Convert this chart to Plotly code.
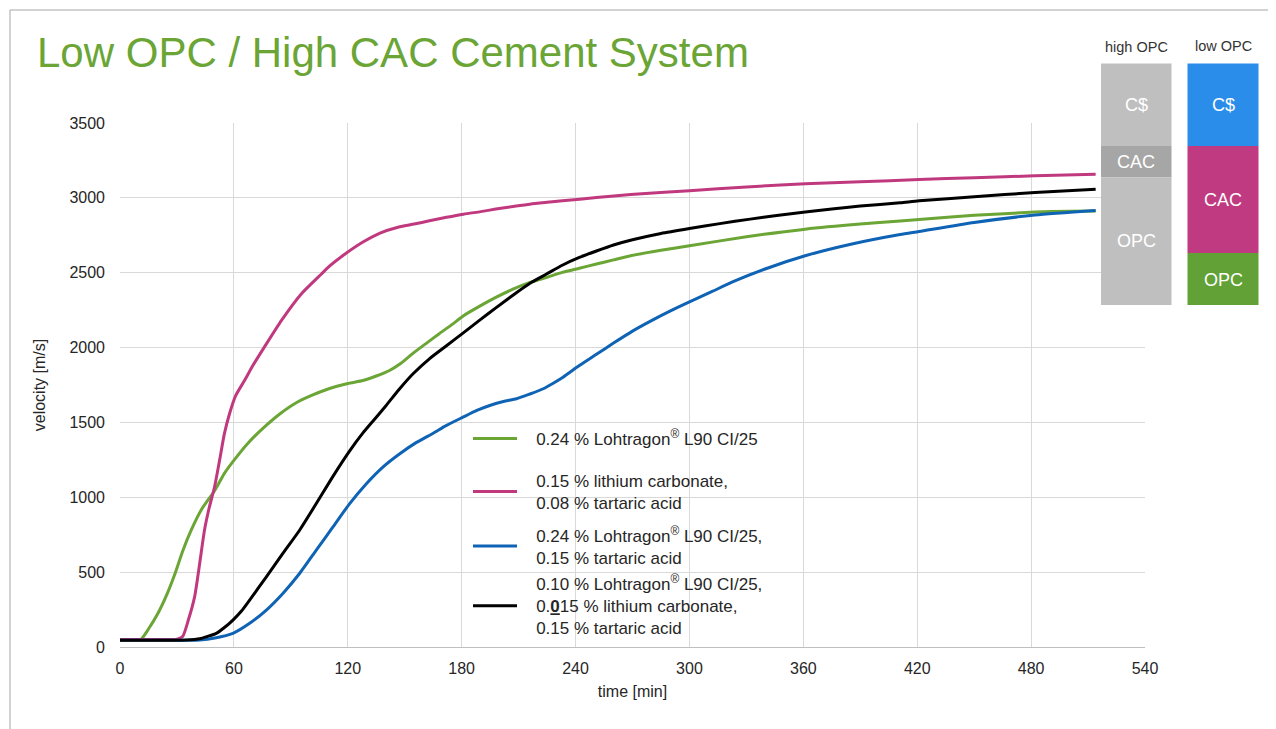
import plotly.graph_objects as go

# ---------------- data ----------------
t_green = [0, 5, 11, 15, 20, 25, 29, 33, 37.5, 43, 50, 55, 60, 68, 76, 84, 92, 100, 110, 120, 128, 135, 142,
           148, 154, 161, 168, 175, 181, 190, 198, 207, 216, 225, 233, 242, 251, 260, 269, 285, 300, 330,
           361, 390, 411, 421, 450, 482, 500, 514]
v_green = [50, 50, 52, 120, 225, 360, 491, 640, 780, 920, 1047, 1160, 1247, 1370, 1469, 1555, 1625, 1675, 1725,
           1760, 1780, 1810, 1847, 1895, 1958, 2025, 2091, 2155, 2213, 2280, 2335, 2390, 2435, 2470, 2502, 2530,
           2558, 2586, 2613, 2650, 2680, 2740, 2791, 2825, 2845, 2855, 2883, 2905, 2911, 2913]

t_pink = [0, 10, 20, 30, 33, 36, 39.3, 42, 44.5, 47, 49.8, 52.5, 55, 57.7, 61, 65.6, 70, 76, 85, 95.5, 106, 110.5,
          118, 128, 137, 146, 155, 163, 172, 181, 190, 198, 207, 216, 225, 233, 251, 269, 300, 330, 361, 390, 421,
          450, 482, 514]
v_pink = [50, 50, 50, 52, 70, 180, 335, 560, 780, 930, 1069, 1250, 1425, 1558, 1680, 1780, 1880, 2002, 2180, 2358,
          2490, 2545, 2620, 2705, 2765, 2802, 2825, 2847, 2870, 2891, 2908, 2925, 2942, 2958, 2970, 2980, 3002,
          3022, 3048, 3073, 3094, 3107, 3123, 3135, 3147, 3158]

t_blue = [0, 20, 42, 50, 59.5, 68.3, 77.1, 85.8, 94.6, 103.4, 112.2, 121, 129.8, 138.5, 147.4, 156, 165, 172, 180.7,
          188, 194.8, 202, 208.9, 216, 223, 228, 233.4, 242, 251, 260, 270, 280, 290, 300, 312, 323, 341, 361,
          385, 411, 421, 450, 482, 514]
v_blue = [45, 45, 47, 60, 91, 158, 247, 358, 491, 647, 802, 958, 1091, 1202, 1291, 1365, 1428, 1480, 1535, 1580,
          1613, 1640, 1658, 1690, 1725, 1760, 1802, 1880, 1955, 2030, 2110, 2180, 2245, 2305, 2375, 2440, 2530,
          2613, 2690, 2755, 2775, 2835, 2885, 2915]

t_black = [0, 20, 35, 42, 46, 50.7, 55, 59.5, 64, 68.3, 77.1, 85.8, 94.6, 103.4, 112.2, 121, 128, 134, 140, 147,
           154.4, 163, 172, 180, 189.5, 198, 207, 216, 224.7, 233, 242, 251, 260, 270, 285, 300, 316, 332, 346,
           361, 375, 390, 411, 421, 450, 482, 514]
v_black = [45, 45, 47, 55, 70, 91, 130, 180, 240, 313, 469, 625, 780, 958, 1140, 1310, 1430, 1520, 1610, 1720,
           1825, 1925, 2012, 2090, 2183, 2265, 2350, 2430, 2491, 2550, 2602, 2645, 2685, 2720, 2762, 2795, 2828,
           2858, 2882, 2905, 2925, 2945, 2967, 2980, 3007, 3036, 3058]

names = [
    "0.24 % Lohtragon<sup>®</sup> L90 CI/25",
    "0.15 % lithium carbonate,<br>0.08 % tartaric acid",
    "0.24 % Lohtragon<sup>®</sup> L90 CI/25,<br>0.15 % tartaric acid",
    "0.10 % Lohtragon<sup>®</sup> L90 CI/25,<br>0.<b><u>0</u></b>15 % lithium carbonate,<br>0.15 % tartaric acid",
]
colors = ["#6AA535", "#C0397F", "#0F63B5", "#000000"]

x_ticks = [0, 60, 120, 180, 240, 300, 360, 420, 480, 540]
y_ticks = [0, 500, 1000, 1500, 2000, 2500, 3000, 3500]

title_text = "Low OPC / High CAC Cement System"
box_headers = ["high OPC", "low OPC"]

# ---------------- layout geometry (page pixels; page body has an 8px margin) ----------------
OFF = 8
W, H = 1276 - OFF, 729 - OFF
PL, PT, PR, PB = 120, 123, 1145, 647   # plot area in page pixels
L, T, R, B = PL - OFF, PT - OFF, PR - OFF, PB - OFF


def px(x):
    return (x - PL) / (PR - PL)


def py(y):
    return (PB - y) / (PB - PT)


INDENT = "\u00a0\u00a0\u00a0"


def indent(label):
    return "<br>".join(INDENT + part for part in label.split("<br>"))


fig = go.Figure()
series = [(t_green, v_green), (t_pink, v_pink), (t_blue, v_blue), (t_black, v_black)]
legend_ids = ["legend", "legend2", "legend3", "legend4"]
legend_centers = [439, 492, 546.5, 606]
for (tx, vy), nm, c, lg in zip(series, names, colors, legend_ids):
    fig.add_trace(go.Scatter(x=tx, y=vy, mode="lines", name=indent(nm), legend=lg,
                             line=dict(color=c, width=3, shape="spline", smoothing=0.6)))

shapes = []
# slide frame
shapes.append(dict(type="rect", xref="paper", yref="paper", x0=px(10), x1=px(1300), y0=py(760), y1=py(10),
                   line=dict(color="#A6A6A6", width=1), fillcolor="rgba(0,0,0,0)", layer="above"))
# white legend panel (covers the grid, under the traces)
shapes.append(dict(type="rect", xref="paper", yref="paper", x0=px(466), x1=px(795), y0=py(641), y1=py(424),
                   line=dict(width=0), fillcolor="white", layer="between"))


def box(x0, x1, y0, y1, color):
    shapes.append(dict(type="rect", xref="paper", yref="paper", x0=px(x0), x1=px(x1), y0=py(y1), y1=py(y0),
                       fillcolor=color, line=dict(width=0), layer="above"))


# high OPC column
box(1101, 1171.5, 63.5, 146, "#BFBFBF")
box(1101, 1171.5, 146, 177.5, "#A6A6A6")
box(1101, 1171.5, 177.5, 305, "#BFBFBF")
# low OPC column
box(1187.5, 1258.5, 63.5, 146, "#2A8DEA")
box(1187.5, 1258.5, 146, 253, "#BF3A80")
box(1187.5, 1258.5, 253, 305, "#62A136")

annotations = [
    dict(text=title_text, xref="paper", yref="paper", x=px(35), y=py(53), xanchor="left", yanchor="middle",
         showarrow=False, font=dict(size=42, color="#6AA535", family="Liberation Sans, Arial")),
    dict(text=box_headers[0], xref="paper", yref="paper", x=px(1136), y=py(47), xanchor="center",
         yanchor="middle", showarrow=False, font=dict(size=14.5, color="#333333")),
    dict(text=box_headers[1], xref="paper", yref="paper", x=px(1223), y=py(46), xanchor="center",
         yanchor="middle", showarrow=False, font=dict(size=14.5, color="#333333")),
]
box_labels = [("C$", 1136, 105), ("CAC", 1136, 162), ("OPC", 1136, 241),
              ("C$", 1223, 105), ("CAC", 1223, 200), ("OPC", 1223, 280)]
for txt, bx, by in box_labels:
    annotations.append(dict(text=txt, xref="paper", yref="paper", x=px(bx), y=py(by), xanchor="center",
                            yanchor="middle", showarrow=False, font=dict(size=18, color="#FFFFFF")))

legend_style = dict(xanchor="left", yanchor="middle", bgcolor="rgba(0,0,0,0)",
                    font=dict(size=17, color="#262626"), itemwidth=44)
legends = {}
for lg, yc in zip(legend_ids, legend_centers):
    legends[lg] = dict(x=px(468), y=py(yc), **legend_style)

fig.update_layout(
    width=W, height=H,
    margin=dict(l=L, r=W - R, t=T, b=H - B, pad=0),
    paper_bgcolor="white", plot_bgcolor="white",
    font=dict(family="Liberation Sans, Arial", size=16, color="#262626"),
    showlegend=True,
    shapes=shapes,
    annotations=annotations,
    xaxis=dict(range=[0, 540], tickvals=x_ticks, showgrid=True, gridcolor="#D9D9D9", gridwidth=1,
               zeroline=False, showline=True, linecolor="#BFBFBF", ticks="", ticklabelstandoff=7,
               title=dict(text="time [min]", font=dict(size=16), standoff=9),
               tickfont=dict(size=16)),
    yaxis=dict(range=[0, 3500], tickvals=y_ticks, showgrid=True, gridcolor="#D9D9D9", gridwidth=1,
               zeroline=False, showline=False, ticks="", ticklabelstandoff=14,
               title=dict(text="velocity [m/s]", font=dict(size=16), standoff=19),
               tickfont=dict(size=16)),
    **legends,
)

fig.write_html("out.html")
